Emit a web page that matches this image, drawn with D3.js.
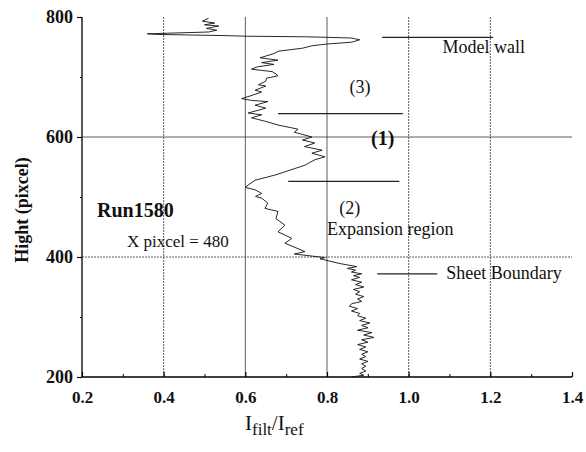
<!DOCTYPE html>
<html>
<head>
<meta charset="utf-8">
<script src="https://cdn.jsdelivr.net/npm/d3@7"></script>
<style>
  body { margin: 0; background: #fff; }
  text { font-family: "Liberation Serif", "DejaVu Serif", serif; fill: #111; }
</style>
</head>
<body>
<div id="chart"></div>
<script>

// profile of I_filt/I_ref against height (pixel) top to bottom
let hight = [798, 793, 790, 787, 785, 781, 778, 775, 772, 771, 769, 768, 767, 765, 762, 758, 755, 752, 748, 743,
	739, 732, 728, 724, 721, 717, 713, 709, 705, 702, 698, 693, 687, 685, 678, 675, 670, 664, 661, 659,
	653, 648, 640, 637, 632, 626, 620, 613, 608, 600, 595, 590, 584, 578, 573, 567, 562, 553, 542, 537,
	528, 520, 516, 512, 506, 501, 498, 490, 481, 476, 464, 453, 442, 431, 423, 409, 405, 399, 397, 389,
	384, 381, 378, 375, 372, 369, 366, 362, 358, 354, 350, 346, 342, 338, 334, 330, 326, 322, 318, 314,
	310, 306, 302, 298, 294, 290, 286, 282, 278, 274, 270, 266, 262, 258, 254, 250, 246, 242, 238, 234,
	230, 226, 222, 218, 214, 210, 206, 203, 200];
let ratio = [0.51, 0.495, 0.525, 0.50, 0.535, 0.505, 0.53, 0.51, 0.36, 0.38, 0.55, 0.60, 0.75, 0.86, 0.88, 0.86, 0.80, 0.763, 0.74, 0.681,
	0.67, 0.636, 0.68, 0.64, 0.67, 0.63, 0.615, 0.666, 0.675, 0.68, 0.652, 0.65, 0.632, 0.65, 0.624, 0.64, 0.619, 0.591, 0.615, 0.655,
	0.624, 0.65, 0.607, 0.64, 0.615, 0.65, 0.68, 0.729, 0.72, 0.763, 0.74, 0.77, 0.745, 0.788, 0.763, 0.795, 0.77, 0.746, 0.697, 0.675,
	0.624, 0.607, 0.60, 0.624, 0.64, 0.625, 0.64, 0.655, 0.648, 0.68, 0.675, 0.697, 0.68, 0.714, 0.697, 0.746, 0.72, 0.795, 0.783, 0.832,
	0.873, 0.85, 0.87, 0.86, 0.885, 0.865, 0.88, 0.86, 0.885, 0.87, 0.89, 0.865, 0.88, 0.87, 0.89, 0.875, 0.885, 0.86, 0.855, 0.875,
	0.86, 0.88, 0.875, 0.895, 0.88, 0.905, 0.885, 0.9, 0.875, 0.91, 0.89, 0.915, 0.885, 0.9, 0.875, 0.895, 0.88, 0.9, 0.885, 0.895,
	0.88, 0.9, 0.885, 0.895, 0.885, 0.895, 0.88, 0.89, 0.86];

let xTicks = [0.2, 0.4, 0.6, 0.8, 1.0, 1.2, 1.4];
let yTicks = [200, 400, 600, 800];
let xGrid = [0.4, 0.6, 0.8, 1.0, 1.2];
let yGrid = [400, 600];

// marker lines: [x0, x1, height]
let markers = [
	[0.935, 1.207, 766],   // model wall
	[0.68, 0.986, 639],    // top of (1)
	[0.705, 0.977, 526],   // bottom of (1)
	[0.923, 1.07, 372]     // sheet boundary leader
];
// labels: [text, x, height]
let notes = [
	["Model wall", 1.083, 740],
	["(3)", 0.855, 673],
	["(2)", 0.83, 472],
	["Expansion region", 0.8, 437],
	["Sheet Boundary", 1.092, 364]
];

let width = 586, height = 452;
let svg = d3.select("#chart").append("svg")
	.attr("width", width)
	.attr("height", height);

let x = d3.scaleLinear().domain([0.2, 1.4]).range([82, 572]);
let y = d3.scaleLinear().domain([200, 800]).range([377, 17]);

// grid
svg.selectAll(".vgrid").data(xGrid).enter().append("line")
	.attr("x1", d => x(d)).attr("x2", d => x(d))
	.attr("y1", y(800)).attr("y2", y(200))
	.attr("stroke", "#333").attr("stroke-width", 0.8)
	.attr("stroke-dasharray", d => d == 0.6 || d == 0.8 ? null : "2,1");
svg.selectAll(".hgrid").data(yGrid).enter().append("line")
	.attr("x1", x(0.2)).attr("x2", x(1.4))
	.attr("y1", d => y(d)).attr("y2", d => y(d))
	.attr("stroke", "#333").attr("stroke-width", 0.8)
	.attr("stroke-dasharray", d => d == 600 ? null : "2,1");

// axes
let xAxis = svg.append("g")
	.attr("transform", "translate(0," + y(200) + ")")
	.call(d3.axisBottom(x).tickValues(xTicks).tickFormat(d3.format(".1f")).tickSize(-5).tickPadding(14));
xAxis.attr("font-family", null);
xAxis.selectAll(".tick text")
	.style("font-family", "'Liberation Serif', serif")
	.style("font-weight", "bold")
	.style("font-size", "17px");
xAxis.select(".domain").attr("d", "M" + x(0.2) + ",0H" + x(1.4)).attr("stroke-width", 1.3);
xAxis.selectAll(".tick line").attr("stroke-width", 1.2);

// minor x ticks
svg.append("g").attr("transform", "translate(0," + y(200) + ")")
	.call(d3.axisBottom(x).tickValues([0.3, 0.5, 0.7, 0.9, 1.1, 1.3]).tickSize(-3).tickFormat(""))
	.select(".domain").remove();

let yAxis = svg.append("g")
	.attr("transform", "translate(" + x(0.2) + ",0)")
	.call(d3.axisLeft(y).tickValues(yTicks).tickSize(5).tickPadding(4));
yAxis.attr("font-family", null);
yAxis.selectAll(".tick text")
	.style("font-family", "'Liberation Serif', serif")
	.style("font-weight", "bold")
	.style("font-size", "18px");
yAxis.select(".domain").attr("d", "M0," + y(800) + "V" + y(200)).attr("stroke-width", 1.3);
yAxis.selectAll(".tick line").attr("stroke-width", 1.2);

svg.append("g").attr("transform", "translate(" + x(0.2) + ",0)")
	.call(d3.axisLeft(y).tickValues([300, 500, 700]).tickSize(2).tickFormat(""))
	.select(".domain").remove();

// profile
let line = d3.line()
	.x((d, i) => x(ratio[i]))
	.y(d => y(d));
svg.append("path")
	.datum(hight)
	.attr("d", line)
	.attr("fill", "none")
	.attr("stroke", "#111")
	.attr("stroke-width", 0.9);

// markers
svg.selectAll(".marker").data(markers).enter().append("line")
	.attr("x1", d => x(d[0])).attr("x2", d => x(d[1]))
	.attr("y1", d => y(d[2])).attr("y2", d => y(d[2]))
	.attr("stroke", "#222").attr("stroke-width", 1.2);

svg.selectAll(".note").data(notes).enter().append("text")
	.attr("x", d => x(d[1]))
	.attr("y", d => y(d[2]))
	.style("font-size", "18px")
	.text(d => d[0]);

svg.append("text")
	.attr("x", 371).attr("y", 145)
	.style("font-size", "20px").style("font-weight", "bold")
	.text("(1)");

svg.append("text")
	.attr("x", 97).attr("y", 217)
	.style("font-size", "20px").style("font-weight", "bold")
	.text("Run1580");

svg.append("text")
	.attr("x", 127).attr("y", 247)
	.style("font-size", "17px")
	.text("X pixcel = 480");

// axis titles
svg.append("text")
	.attr("transform", "translate(28,210) rotate(-90)")
	.attr("text-anchor", "middle")
	.style("font-size", "18px").style("font-weight", "bold")
	.text("Hight (pixcel)");

let xt = svg.append("text")
	.attr("x", 245).attr("y", 430)
	.style("font-size", "21px");
xt.append("tspan").text("I");
xt.append("tspan").attr("dy", 5).style("font-size", "17px").text("filt");
xt.append("tspan").attr("dy", -5).text("/I");
xt.append("tspan").attr("dy", 5).style("font-size", "17px").text("ref");

</script>
</body>
</html>
